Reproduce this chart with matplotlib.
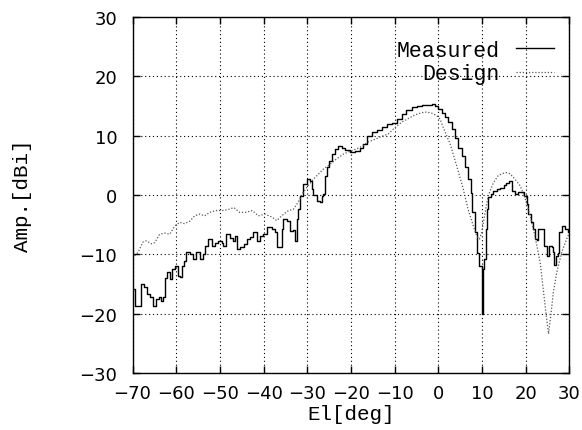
import matplotlib
matplotlib.use('Agg')
from matplotlib import pyplot as plt

# Measured pattern (El [deg], Amp [dBi])
meas_el = [-70.0, -69.5, -68.1, -67.4, -66.8, -66.1, -65.3, -64.6, -64.0, -63.4,
           -63.0, -62.6, -62.0, -61.5, -61.0, -60.3, -59.7, -59.2, -58.7, -58.3,
           -57.7, -56.9, -56.2, -55.4, -54.6, -53.9, -53.3, -52.7, -51.9, -51.1,
           -50.4, -49.6, -49.2, -48.7, -47.7, -46.9, -46.5, -46.2, -45.4, -44.6,
           -43.9, -43.1, -42.4, -41.6, -40.8, -40.1, -39.3, -38.1, -37.4, -37.0,
           -36.2, -35.9, -35.5, -34.7, -34.0, -33.2, -32.8, -32.4, -32.1, -31.7,
           -31.1, -30.1, -29.4, -29.0, -28.6, -27.8, -27.1, -26.7, -26.3, -25.9,
           -25.4, -25.0, -24.4, -23.7, -22.9, -22.1, -21.4, -20.2, -19.1, -18.0,
           -17.2, -16.4, -15.3, -14.1, -13.0, -11.8, -10.7, -9.5, -8.4, -7.3,
           -6.1, -5.0, -3.8, -2.7, -1.5, -0.8, 0.0, 0.8, 1.5, 2.3,
           3.0, 3.8, 4.6, 5.3, 6.1, 6.8, 7.4, 7.8, 8.4, 8.8,
           9.2, 9.6, 9.9, 10.1, 10.3, 10.5, 10.8, 11.1, 11.4, 12.0,
           12.6, 13.3, 14.1, 14.9, 15.5, 16.2, 16.8, 17.5, 18.3, 19.1,
           19.7, 20.3, 20.6, 21.2, 21.7, 22.1, 22.5, 22.9, 24.0, 24.2,
           24.8, 25.3, 25.9, 26.3, 26.5, 27.0, 27.4, 27.7, 28.2, 29.0,
           29.6, 30.0]
meas_amp = [-15.9, -18.7, -15.0, -15.5, -16.7, -17.2, -18.7, -17.5, -17.1, -17.9,
            -17.2, -13.9, -13.0, -14.1, -12.5, -11.9, -13.6, -13.8, -11.9, -11.1,
            -9.6, -9.9, -10.8, -9.6, -10.8, -9.9, -8.5, -7.4, -8.5, -8.0,
            -7.7, -8.0, -8.5, -6.6, -7.2, -7.7, -6.9, -9.1, -8.8, -8.2,
            -7.4, -7.1, -6.3, -7.7, -6.9, -6.6, -5.4, -5.7, -6.3, -8.8,
            -8.8, -5.7, -4.0, -4.4, -6.0, -5.8, -7.8, -4.0, -2.4, -0.1,
            1.9, 2.7, 2.4, 1.0, 0.1, -1.0, -1.2, -0.1, 0.2, 3.3,
            4.7, 5.8, 6.9, 7.8, 8.3, 8.0, 7.6, 7.2, 7.4, 8.0,
            8.6, 10.0, 10.6, 11.0, 11.4, 11.9, 12.1, 12.8, 13.7, 14.4,
            14.8, 15.1, 15.15, 15.2, 15.3, 15.0, 14.5, 13.9, 13.1, 12.3,
            11.1, 9.7, 8.0, 6.6, 4.7, 2.7, 0.4, -2.9, -6.3, -9.7,
            -11.9, -12.0, -20.1, -13.0, -12.5, -10.8, -5.7, -2.4, -0.4, 0.2,
            0.7, 1.1, 1.2, 1.7, 2.1, 2.4, 0.7, 0.2, 0.6, 0.5,
            -0.1, -1.5, -3.2, -4.6, -5.7, -7.4, -7.6, -5.7, -5.7, -8.5,
            -10.2, -8.5, -8.8, -9.6, -11.8, -10.2, -9.8, -6.3, -5.2, -5.7,
            -6.2, -6.2]

# Design pattern
design_el = [-70.0, -68.7, -67.6, -66.8, -65.7, -64.9, -63.8, -62.6, -61.5, -60.3,
             -59.2, -58.1, -56.9, -55.8, -54.6, -53.5, -52.3, -51.0, -49.5, -48.0,
             -46.8, -45.5, -44.0, -42.6, -41.2, -39.7, -38.1, -37.0, -35.9, -34.3,
             -33.2, -32.1, -30.9, -29.8, -28.6, -27.5, -26.3, -24.8, -23.3, -21.8,
             -20.2, -18.7, -17.6, -16.0, -14.5, -13.0, -11.5, -9.9, -8.4, -6.9,
             -5.4, -3.8, -2.7, -1.5, -0.4, 0.4, 1.1, 2.7, 4.2, 5.7,
             6.8, 8.0, 8.8, 9.4, 9.9, 10.7, 11.4, 12.6, 13.7, 14.9,
             15.5, 16.4, 17.5, 18.7, 19.8, 21.0, 22.1, 23.3, 24.0, 24.6,
             25.2, 25.8, 26.3, 27.1, 28.2, 29.6, 30.0]
design_amp = [-10.6, -9.6, -7.9, -7.7, -8.2, -8.0, -6.6, -6.4, -6.6, -5.2,
              -4.6, -4.8, -4.4, -3.5, -3.2, -3.5, -2.9, -2.6, -2.6, -2.4,
              -2.1, -2.9, -2.9, -2.6, -3.5, -3.2, -3.7, -4.3, -3.5, -2.6,
              -2.4, -1.2, 0.5, 1.6, 2.7, 3.5, 4.4, 5.2, 6.1, 6.9,
              7.4, 7.8, 8.2, 9.0, 9.4, 9.9, 10.3, 11.4, 12.3, 12.9,
              13.5, 13.9, 14.0, 13.8, 13.4, 12.8, 11.4, 8.6, 4.9, 1.0,
              -2.4, -5.2, -6.9, -7.4, -6.3, -2.9, -0.1, 2.1, 3.3, 3.7,
              3.8, 3.6, 2.7, 1.6, -0.4, -3.5, -6.9, -11.4, -15.9, -19.8,
              -23.4, -19.8, -16.4, -13.0, -9.7, -6.9, -6.5]

x_ticks = [-70, -60, -50, -40, -30, -20, -10, 0, 10, 20, 30]
y_ticks = [-30, -20, -10, 0, 10, 20, 30]

mono = 'Liberation Mono'

fig = plt.figure(figsize=(5.82, 4.31), dpi=100)
ax = fig.add_axes([0.2277, 0.132, 0.7508, 0.826])

ax.plot(meas_el, meas_amp, color='black', lw=1.0, drawstyle='steps-post',
        label='Measured')
ax.plot(design_el, design_amp, color='#555555', lw=0.9, linestyle=(0, (1, 1.5)),
        label='Design')

ax.set_xlim(-70, 30)
ax.set_ylim(-30, 30)
ax.set_xticks(x_ticks)
ax.set_yticks(y_ticks)
ax.grid(True, color='black', linestyle=(0, (1, 2.5)), lw=0.8)

ax.tick_params(direction='in', length=5, width=1, top=True, right=True,
               labelsize=13)
ax.tick_params(axis='x', pad=8)
ax.tick_params(axis='y', pad=11)
for lab in ax.get_xticklabels() + ax.get_yticklabels():
    lab.set_family('DejaVu Sans')
for s in ax.spines.values():
    s.set_linewidth(1.0)

ax.set_xlabel('El[deg]', family=mono, fontsize=15, labelpad=1)
ax.set_ylabel('Amp.[dBi]', family=mono, fontsize=15, labelpad=34)

ax.legend(loc='upper right', bbox_to_anchor=(0.985, 0.96), frameon=False,
          markerfirst=False, handlelength=1.8, handletextpad=0.75,
          labelspacing=0.1, borderaxespad=0.0, prop={'family': mono, 'size': 15.5})

fig.savefig('out.png', dpi=100)
